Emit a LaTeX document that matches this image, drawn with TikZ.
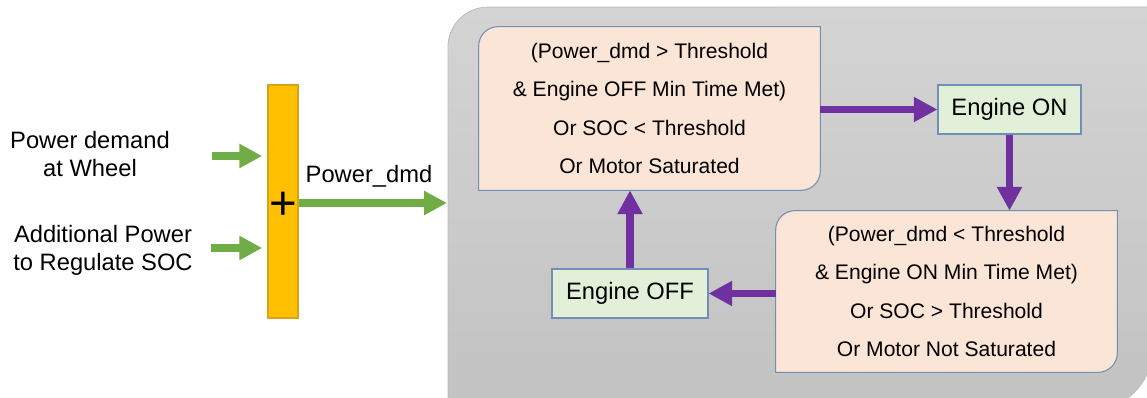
\documentclass[tikz,border=0pt]{standalone}
\usepackage{fontspec}
\setmainfont{Liberation Sans}
\usetikzlibrary{arrows.meta,backgrounds}

\definecolor{arrowgreen}{HTML}{70AD47}
\definecolor{arrowpurple}{HTML}{7030A0}
\definecolor{sumorange}{HTML}{FFC000}
\definecolor{barline}{HTML}{D9A21B}
\definecolor{condpink}{HTML}{FBE5D6}
\definecolor{stategreen}{HTML}{E2F0D9}
\definecolor{boxline}{HTML}{6F8FB6}
\definecolor{paneltop}{HTML}{D4D4D4}
\definecolor{panelbottom}{HTML}{C2C2C2}
\definecolor{panelline}{HTML}{BDBDBD}

\tikzset{
  lbl/.style={font=\fontsize{13.5}{16}\selectfont, align=center},
  condbox/.style={font=\fontsize{12}{21.8}\selectfont, align=center, minimum width=6.82cm, minimum height=3.26cm, inner sep=0pt},
  statebox/.style={draw=boxline, fill=stategreen, line width=0.6pt, font=\fontsize{13.5}{16}\selectfont, minimum height=0.98cm, inner sep=0pt},
  greenarrow/.style={draw=arrowgreen, line width=4pt, -{Triangle[length=13pt,width=13pt]}},
  purplearrow/.style={draw=arrowpurple, line width=4.2pt, -{Triangle[length=13.5pt,width=13.5pt]}}
}

\begin{document}
\begin{tikzpicture}[x=0.02cm, y=-0.02cm]
  \useasboundingbox (0,0) rectangle (1147,398);

  % inputs and summation
  \node[lbl] (wheel) at (90,154) {Power demand\\at Wheel};
  \node[lbl] (extra) at (103,250) {Additional Power\\to Regulate SOC};
  \node[draw=barline, fill=sumorange, line width=0.6pt, minimum width=0.6cm, minimum height=4.66cm, inner sep=0pt] (sum) at (283,201.5) {};
  \node[font=\fontsize{27}{27}\selectfont, inner sep=0pt] (plus) at (283,206) {+};
  \node[lbl] (pdmd) at (369,176) {Power\_dmd};

  % state machine
  \node[condbox] (oncond) at (649.5,108.5) {(Power\_dmd > Threshold\\\& Engine OFF Min Time Met)\\Or SOC < Threshold\\Or Motor Saturated};
  \node[statebox, minimum width=2.86cm] (engon) at (1009.5,109.5) {Engine ON};
  \node[condbox, minimum height=3.22cm] (offcond) at (946.5,291.5) {(Power\_dmd < Threshold\\\& Engine ON Min Time Met)\\Or SOC > Threshold\\Or Motor Not Saturated};
  \node[statebox, minimum width=3.12cm] (engoff) at (630,293.5) {Engine OFF};

  \coordinate (in1) at (212,156);
  \coordinate (in2) at (211,248);
  \coordinate (panel) at (447,203);

  \draw[greenarrow, shorten >=3pt] (in1) -- (in1 -| sum.west);
  \draw[greenarrow, shorten >=3pt] (in2) -- (in2 -| sum.west);
  \draw[greenarrow] (panel -| sum.east) -- (panel);

  \draw[purplearrow] (oncond.east |- engon.west) -- (engon.west);
  \draw[purplearrow] (engon.south) -- (engon.south |- offcond.north);
  \draw[purplearrow] (offcond.west |- engoff.east) -- (engoff.east);
  \draw[purplearrow] (engoff.north) -- (engoff.north |- oncond.south);

  \begin{scope}[on background layer]
    \shade[top color=paneltop, bottom color=panelbottom, draw=panelline, line width=0.5pt]
      (448,410) -- (448,47) arc[start angle=180, end angle=90, radius=22.7pt] -- (1152,7)
      -- (1152,350) arc[start angle=0, end angle=-90, radius=34pt] -- cycle;
    \foreach \c in {oncond, offcond}
      \draw[draw=boxline, fill=condpink, line width=0.6pt] (\c.north east) -- ([xshift=11pt]\c.north west)
        arc[start angle=90, end angle=180, radius=11pt] -- (\c.south west) -- ([xshift=-11pt]\c.south east)
        arc[start angle=270, end angle=360, radius=11pt] -- cycle;
  \end{scope}
\end{tikzpicture}
\end{document}
